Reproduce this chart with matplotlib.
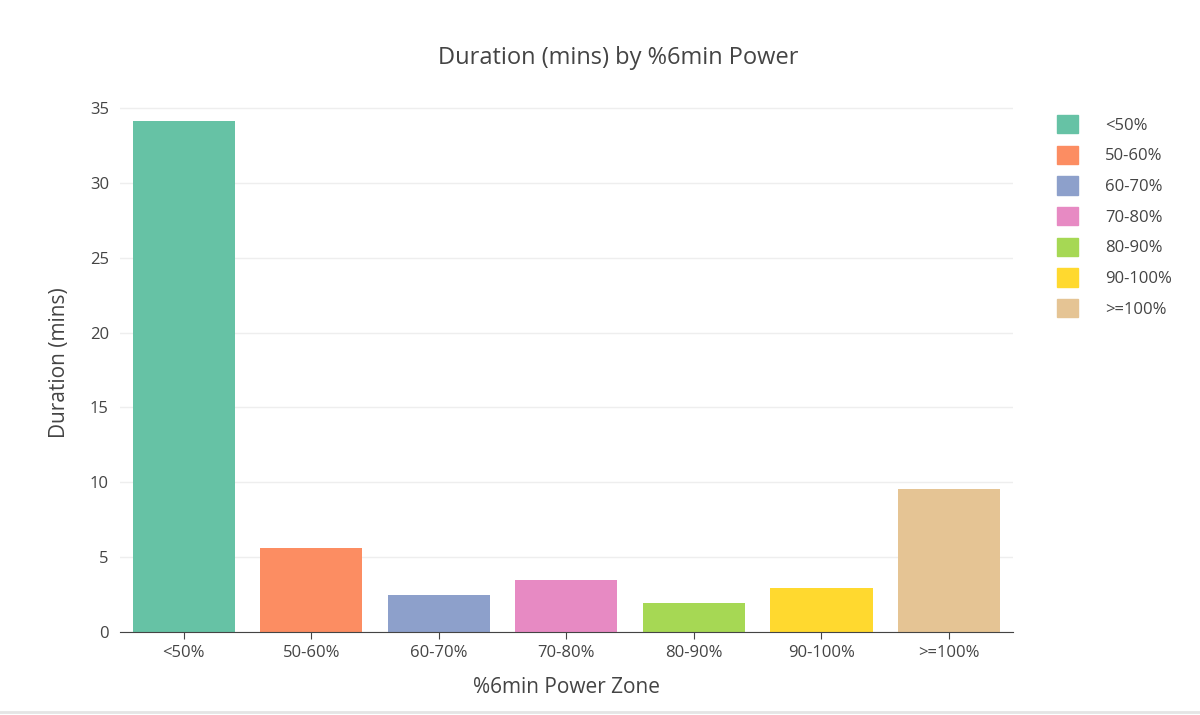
import matplotlib.pyplot as plt
from matplotlib.patches import Patch

zones = ["<50%", "50-60%", "60-70%", "70-80%", "80-90%", "90-100%", ">=100%"]
durations = [34.13, 5.61, 2.47, 3.47, 1.94, 2.94, 9.55]
colors = ["#66c2a5", "#fc8d62", "#8da0cb", "#e78ac3", "#a6d854", "#ffd92f", "#e5c494"]

plt.rcParams["font.family"] = ["Open Sans", "DejaVu Sans"]
txt = "#444444"

fig = plt.figure(figsize=(12, 7.15), dpi=100)
ax = fig.add_axes([0.1, 0.116, 0.744, 0.754])

x = range(len(zones))
ax.bar(x, durations, width=0.8, color=colors, zorder=2)
ax.set_xlim(-0.5, len(zones) - 0.5)
ax.set_ylim(0, 36)
ax.set_yticks([0, 5, 10, 15, 20, 25, 30, 35])
ax.set_xticks(list(x))
ax.set_xticklabels(zones)
ax.grid(axis="y", color="#eeeeee", linewidth=1, zorder=0)
for s in ["top", "right", "left"]:
    ax.spines[s].set_visible(False)
ax.spines["bottom"].set_color(txt)
ax.tick_params(axis="both", length=0, labelsize=12, colors=txt, pad=8)
ax.tick_params(axis="x", length=5, color=txt, pad=4)

ax.set_xlabel("%6min Power Zone", fontsize=15, color=txt, labelpad=12)
ax.set_ylabel("Duration (mins)", fontsize=15, color=txt, labelpad=14)
fig.text(0.515, 0.91, "Duration (mins) by %6min Power", ha="center", fontsize=17, color=txt)

handles = [Patch(color=c, label=z) for z, c in zip(zones, colors)]
fig.legend(handles=handles, loc="upper left", bbox_to_anchor=(0.868, 0.86),
           frameon=False, fontsize=12, labelcolor=txt, handlelength=1.3,
           handleheight=1.3, labelspacing=0.72, handletextpad=1.6)

fig.add_artist(plt.Line2D([0, 1], [0.004, 0.004], color="#e5e5e5", linewidth=2))

fig.savefig("out.png", dpi=100)
